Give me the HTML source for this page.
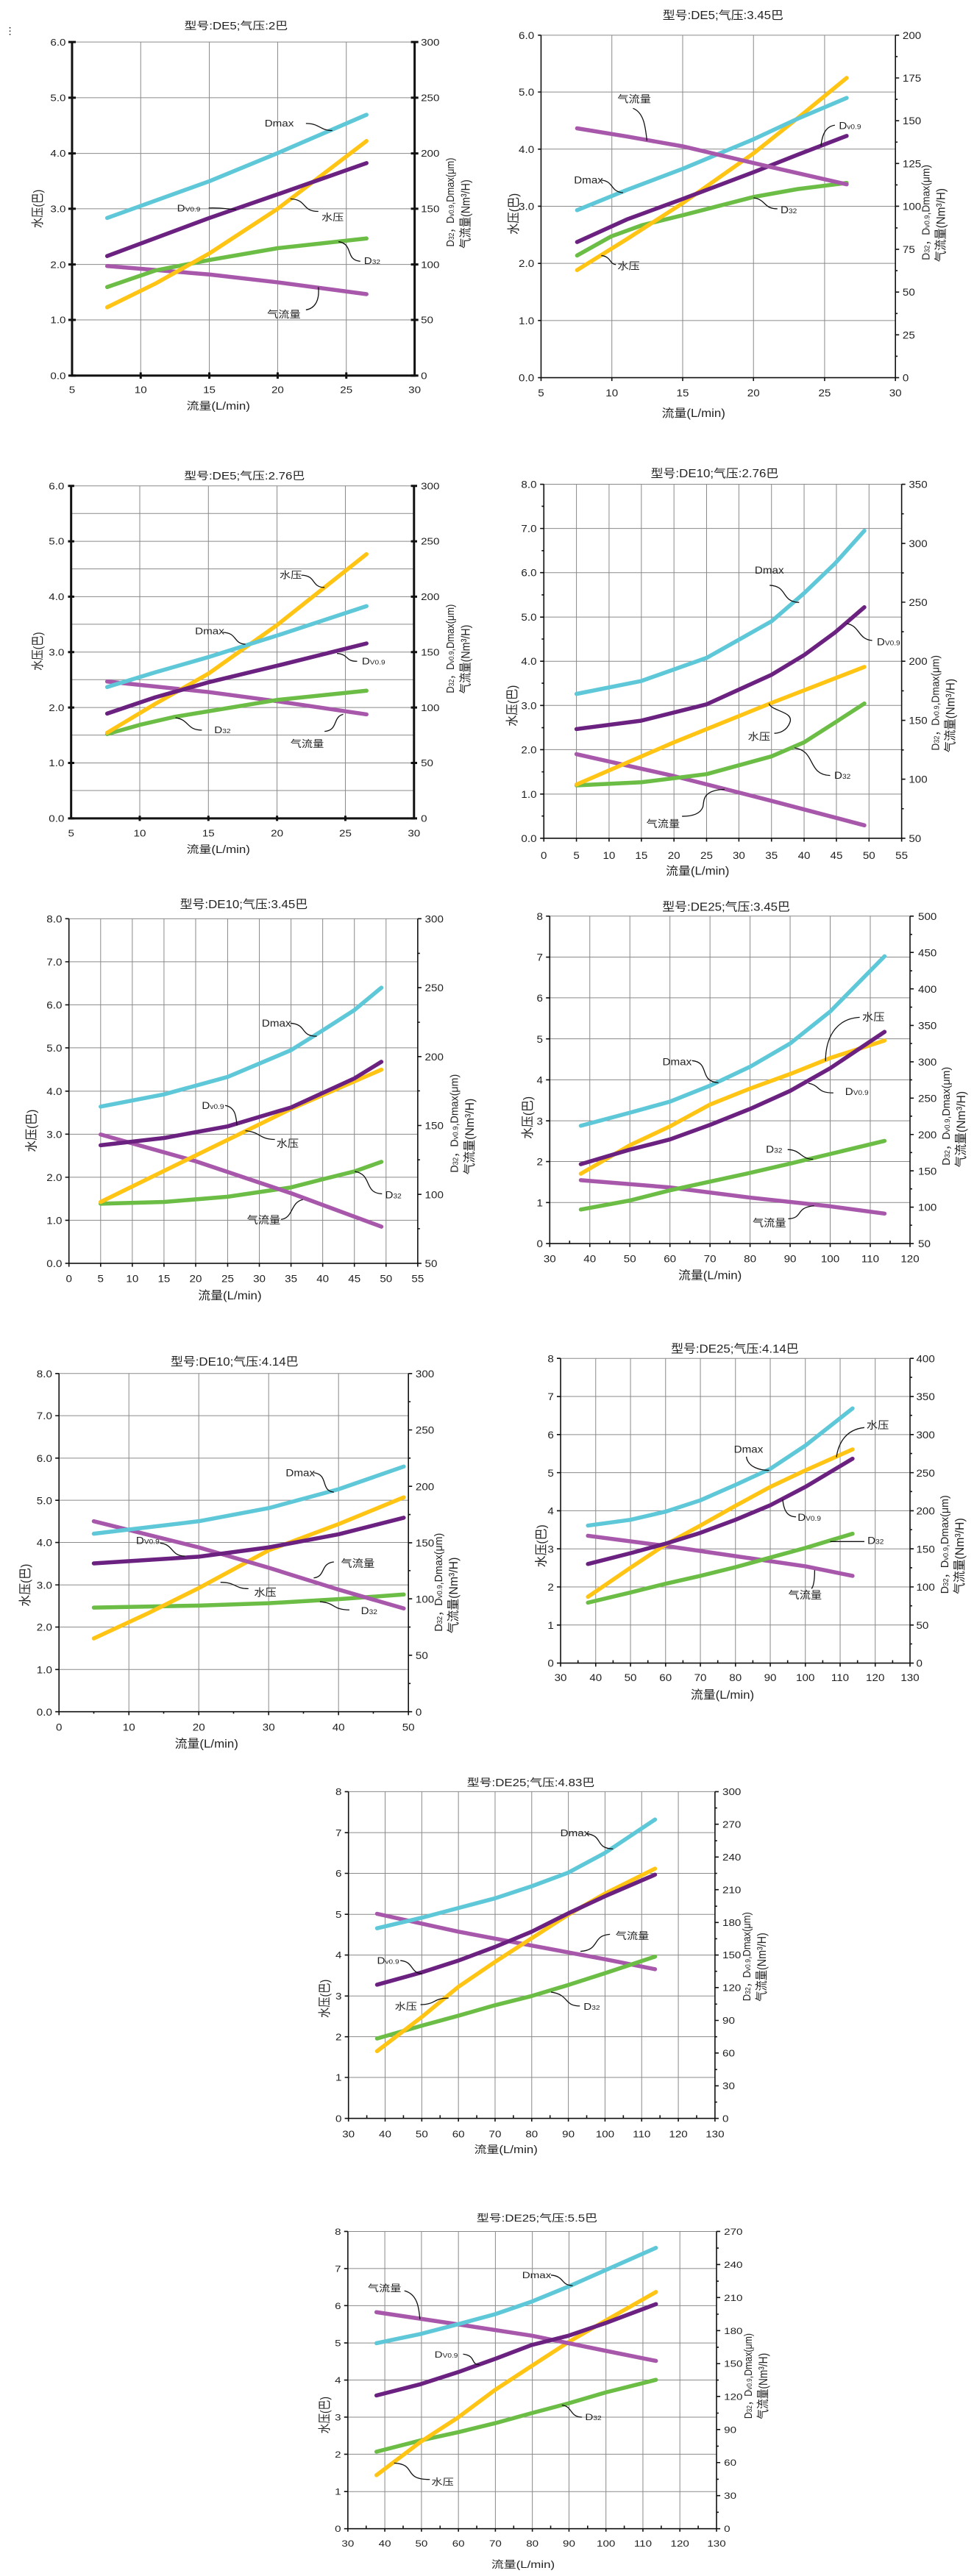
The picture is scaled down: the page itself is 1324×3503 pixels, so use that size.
<!DOCTYPE html>
<html><head><meta charset="utf-8">
<style>
html,body{margin:0;padding:0;background:#fff}
svg *{vector-effect:non-scaling-stroke}
.gr{stroke:#8a8a8a;stroke-width:1;fill:none}
.ax{stroke:#111;stroke-width:1.6;fill:none}
.ax3{stroke:#111;stroke-width:3;fill:none}
.c{fill:none;stroke-width:5.5;stroke-linecap:round;stroke-linejoin:round}
.ld{fill:none;stroke:#111;stroke-width:1.3}
text{font-family:"Liberation Sans","Noto Sans CJK SC",sans-serif;fill:#222}
.tk{font-size:36px}
.tl{font-size:40px}
.an{font-size:36px}
.sb{font-size:24px}
.cy{stroke:#5ec8d8}.ye{stroke:#ffc414}.pu{stroke:#6b2180}.lp{stroke:#a858ab}.gn{stroke:#6cbd45}
.e{text-anchor:end}.m{text-anchor:middle}
</style></head>
<body>
<svg width="1324" height="3498" viewBox="0 0 1324 3498" xmlns="http://www.w3.org/2000/svg">
<rect width="1324" height="3498" fill="#fff"/>

<!-- Chart 1 -->
<svg x="0" y="0" width="662" height="560" viewBox="0 0 1568 1568" preserveAspectRatio="none" overflow="visible">
<text x="14" y="130" class="tk" fill="#555">⋮</text>
<path class="gr" d="M453 160V1430M674 160V1430M894 160V1430M1115 160V1430M232 1218H1335M232 1007H1335M232 795H1335M232 584H1335M232 372H1335M232 160H1335"/>
<path class="ax3" d="M232 160V1430H1335V160"/>
<path class="ax3" d="M220 1430H244M220 1218H244M220 1007H244M220 795H244M220 584H244M220 372H244M220 160H244M1323 1430H1347M1323 1218H1347M1323 1007H1347M1323 795H1347M1323 584H1347M1323 372H1347M1323 160H1347M453 1418V1442M674 1418V1442M894 1418V1442M1115 1418V1442"/>
<g class="tk e"><text x="212" y="1443">0.0</text><text x="212" y="1231">1.0</text><text x="212" y="1020">2.0</text><text x="212" y="808">3.0</text><text x="212" y="597">4.0</text><text x="212" y="385">5.0</text><text x="212" y="173">6.0</text></g>
<g class="tk"><text x="1355" y="1443">0</text><text x="1355" y="1231">50</text><text x="1355" y="1020">100</text><text x="1355" y="808">150</text><text x="1355" y="597">200</text><text x="1355" y="385">250</text><text x="1355" y="173">300</text></g>
<g class="tk m"><text x="232" y="1497">5</text><text x="453" y="1497">10</text><text x="674" y="1497">15</text><text x="894" y="1497">20</text><text x="1115" y="1497">25</text><text x="1335" y="1497">30</text></g>
<text x="760" y="112" class="tl m">型号:DE5;气压:2巴</text>
<text x="703" y="1560" class="tl m">流量(L/min)</text>
<text class="tl m" transform="translate(135 795) rotate(-90)">水压(巴)</text>
<text class="tk m" transform="translate(1462 770) rotate(-90)">D<tspan class="sb">32</tspan>，D<tspan class="sb">v0.9</tspan>,Dmax(μm)</text>
<text class="tl m" transform="translate(1512 815) rotate(-90)">气流量(Nm³/H)</text>
<path class="c lp" d="M345 1013L674 1045L894 1075L1180 1120"/>
<path class="c gn" d="M345 1093L500 1030L674 990L894 945L1180 908"/>
<path class="c ye" d="M345 1170L500 1080L674 965L894 795L1180 537"/>
<path class="c pu" d="M345 975L674 830L894 740L1180 621"/>
<path class="c cy" d="M345 830L674 690L894 583L1180 437"/>
<text x="852" y="482" class="an">Dmax</text><path class="ld" d="M985 470C1030 470 1030 497 1070 497"/>
<text x="570" y="805" class="an">D<tspan class="sb">V0.9</tspan></text><path class="ld" d="M672 792C720 790 730 797 760 797"/>
<text x="1035" y="840" class="an">水压</text><path class="ld" d="M935 757C990 760 970 805 1025 805"/>
<text x="1172" y="1005" class="an">D<tspan class="sb">32</tspan></text><path class="ld" d="M1090 920C1140 930 1110 990 1160 995"/>
<text x="860" y="1210" class="an">气流量</text><path class="ld" d="M1025 1093C1030 1150 1010 1175 985 1180"/>
</svg>

<!-- Chart 2 -->
<svg x="662" y="0" width="662" height="600" viewBox="0 0 1568 1568" preserveAspectRatio="none" overflow="visible">
<path class="gr" d="M402 125V1342M630 125V1342M858 125V1342M1087 125V1342M174 1139H1315M174 936H1315M174 733H1315M174 530H1315M174 327H1315M174 125H1315"/>
<path class="ax" d="M174 125V1342H1315V125"/>
<path class="ax" d="M164 1342H174M164 1139H174M164 936H174M164 733H174M164 530H174M164 327H174M164 125H174M1315 1342H1327M1315 1190H1327M1315 1038H1327M1315 886H1327M1315 733H1327M1315 581H1327M1315 429H1327M1315 277H1327M1315 125H1327M1315 1266H1322M1315 1114H1322M1315 962H1322M1315 810H1322M1315 657H1322M1315 505H1322M1315 353H1322M1315 201H1322M174 1342V1354M402 1342V1354M630 1342V1354M858 1342V1354M1087 1342V1354M1315 1342V1354"/>
<g class="tk e"><text x="152" y="1355">0.0</text><text x="152" y="1152">1.0</text><text x="152" y="949">2.0</text><text x="152" y="746">3.0</text><text x="152" y="543">4.0</text><text x="152" y="340">5.0</text><text x="152" y="138">6.0</text></g>
<g class="tk"><text x="1338" y="1355">0</text><text x="1338" y="1203">25</text><text x="1338" y="1051">50</text><text x="1338" y="899">75</text><text x="1338" y="746">100</text><text x="1338" y="594">125</text><text x="1338" y="442">150</text><text x="1338" y="290">175</text><text x="1338" y="138">200</text></g>
<g class="tk m"><text x="174" y="1408">5</text><text x="402" y="1408">10</text><text x="630" y="1408">15</text><text x="858" y="1408">20</text><text x="1087" y="1408">25</text><text x="1315" y="1408">30</text></g>
<text x="760" y="68" class="tl m">型号:DE5;气压:3.45巴</text>
<text x="665" y="1482" class="tl m">流量(L/min)</text>
<text class="tl m" transform="translate(100 760) rotate(-90)">水压(巴)</text>
<text class="tk m" transform="translate(1425 755) rotate(-90)">D<tspan class="sb">32</tspan>，D<tspan class="sb">v0.9</tspan>,Dmax(μm)</text>
<text class="tl m" transform="translate(1475 800) rotate(-90)">气流量(Nm³/H)</text>
<path class="c gn" d="M290 908L400 840L500 800L630 765L858 700L1000 672L1158 650"/>
<path class="c ye" d="M290 960L450 850L630 722L858 545L1000 420L1158 277"/>
<path class="c pu" d="M290 860L450 780L630 707L858 612L1000 550L1158 483"/>
<path class="c cy" d="M290 747L450 675L630 600L858 495L1000 422L1158 348"/>
<path class="c lp" d="M290 456L450 485L630 520L900 590L1158 655"/>
<text x="420" y="365" class="an">气流量</text><path class="ld" d="M470 385C505 400 510 450 515 500"/>
<text x="280" y="652" class="an">Dmax</text><path class="ld" d="M368 640C410 645 395 680 438 685"/>
<text x="1133" y="458" class="an">D<tspan class="sb">v0.9</tspan></text><path class="ld" d="M1120 445C1085 450 1078 490 1075 520"/>
<text x="945" y="758" class="an">D<tspan class="sb">32</tspan></text><path class="ld" d="M858 703C900 710 890 742 935 742"/>
<text x="420" y="958" class="an">水压</text><path class="ld" d="M368 908C400 912 395 940 415 940"/>
</svg>

<!-- Chart 3 -->
<svg x="0" y="600" width="662" height="560" viewBox="0 0 1568 1568" preserveAspectRatio="none" overflow="visible">
<path class="gr" d="M450 170V1436M671 170V1436M892 170V1436M1112 170V1436M229 1225H1333M229 1014H1333M229 803H1333M229 592H1333M229 381H1333M229 170H1333M229 1330H1333M229 1119H1333M229 908H1333M229 697H1333M229 486H1333M229 275H1333"/>
<path class="ax3" d="M229 170V1436H1333V170"/>
<path class="ax3" d="M219 1436H239M219 1225H239M219 1014H239M219 803H239M219 592H239M219 381H239M219 170H239M1323 1436H1343M1323 1225H1343M1323 1014H1343M1323 803H1343M1323 592H1343M1323 381H1343M1323 170H1343M450 1426V1446M671 1426V1446M892 1426V1446M1112 1426V1446"/>
<g class="tk e"><text x="207" y="1449">0.0</text><text x="207" y="1238">1.0</text><text x="207" y="1027">2.0</text><text x="207" y="816">3.0</text><text x="207" y="605">4.0</text><text x="207" y="394">5.0</text><text x="207" y="183">6.0</text></g>
<g class="tk"><text x="1355" y="1449">0</text><text x="1355" y="1238">50</text><text x="1355" y="1027">100</text><text x="1355" y="816">150</text><text x="1355" y="605">200</text><text x="1355" y="394">250</text><text x="1355" y="183">300</text></g>
<g class="tk m"><text x="229" y="1505">5</text><text x="450" y="1505">10</text><text x="671" y="1505">15</text><text x="892" y="1505">20</text><text x="1112" y="1505">25</text><text x="1333" y="1505">30</text></g>
<text x="787" y="145" class="tl m">型号:DE5;气压:2.76巴</text>
<text x="703" y="1568" class="tl m">流量(L/min)</text>
<text class="tl m" transform="translate(135 800) rotate(-90)">水压(巴)</text>
<text class="tk m" transform="translate(1462 790) rotate(-90)">D<tspan class="sb">32</tspan>，D<tspan class="sb">v0.9</tspan>,Dmax(μm)</text>
<text class="tl m" transform="translate(1512 830) rotate(-90)">气流量(Nm³/H)</text>
<path class="c lp" d="M345 915L671 955L892 990L1180 1040"/>
<path class="c gn" d="M345 1115L450 1080L560 1050L892 985L1180 950"/>
<path class="c ye" d="M345 1110L500 1000L671 885L892 700L1180 430"/>
<path class="c pu" d="M345 1037L500 975L671 918L892 855L1180 770"/>
<path class="c cy" d="M345 936L500 880L671 822L892 740L1180 628"/>
<text x="900" y="522" class="an">水压</text><path class="ld" d="M970 510C1020 512 1000 555 1045 557"/>
<text x="628" y="735" class="an">Dmax</text><path class="ld" d="M718 728C765 730 750 770 790 773"/>
<text x="1165" y="850" class="an">D<tspan class="sb">V0.9</tspan></text><path class="ld" d="M1085 808C1125 812 1110 838 1150 838"/>
<text x="690" y="1112" class="an">D<tspan class="sb">32</tspan></text><path class="ld" d="M565 1053C610 1060 600 1100 650 1100"/>
<text x="935" y="1165" class="an">气流量</text><path class="ld" d="M1105 1040C1070 1050 1090 1100 1045 1105"/>
</svg>

<!-- Chart 4 -->
<svg x="662" y="600" width="662" height="600" viewBox="0 0 1568 1568" preserveAspectRatio="none" overflow="visible">
<path class="gr" d="M288 153V1411M393 153V1411M497 153V1411M602 153V1411M707 153V1411M811 153V1411M916 153V1411M1021 153V1411M1125 153V1411M1230 153V1411M183 1254H1335M183 1096H1335M183 939H1335M183 782H1335M183 625H1335M183 467H1335M183 310H1335M183 153H1335"/>
<path class="ax" d="M183 153V1411H1335V153"/>
<path class="ax" d="M171 1411H183M171 1254H183M171 1096H183M171 939H183M171 782H183M171 625H183M171 467H183M171 310H183M171 153H183M176 1332H183M176 1175H183M176 1018H183M176 860H183M176 703H183M176 546H183M176 389H183M176 231H183M1335 1411H1347M1335 1201H1347M1335 992H1347M1335 782H1347M1335 572H1347M1335 363H1347M1335 153H1347M1335 1306H1342M1335 1097H1342M1335 887H1342M1335 677H1342M1335 468H1342M1335 258H1342M183 1411V1423M288 1411V1423M393 1411V1423M497 1411V1423M602 1411V1423M707 1411V1423M811 1411V1423M916 1411V1423M1021 1411V1423M1125 1411V1423M1230 1411V1423M1335 1411V1423"/>
<g class="tk e"><text x="160" y="1424">0.0</text><text x="160" y="1267">1.0</text><text x="160" y="1109">2.0</text><text x="160" y="952">3.0</text><text x="160" y="795">4.0</text><text x="160" y="638">5.0</text><text x="160" y="480">6.0</text><text x="160" y="323">7.0</text><text x="160" y="166">8.0</text></g>
<g class="tk"><text x="1358" y="1424">50</text><text x="1358" y="1214">100</text><text x="1358" y="1005">150</text><text x="1358" y="795">200</text><text x="1358" y="585">250</text><text x="1358" y="376">300</text><text x="1358" y="166">350</text></g>
<g class="tk m"><text x="183" y="1485">0</text><text x="288" y="1485">5</text><text x="393" y="1485">10</text><text x="497" y="1485">15</text><text x="602" y="1485">20</text><text x="707" y="1485">25</text><text x="811" y="1485">30</text><text x="916" y="1485">35</text><text x="1021" y="1485">40</text><text x="1125" y="1485">45</text><text x="1230" y="1485">50</text><text x="1335" y="1485">55</text></g>
<text x="733" y="128" class="tl m">型号:DE10;气压:2.76巴</text>
<text x="678" y="1540" class="tl m">流量(L/min)</text>
<text class="tl m" transform="translate(95 940) rotate(-90)">水压(巴)</text>
<text class="tk m" transform="translate(1455 930) rotate(-90)">D<tspan class="sb">32</tspan>，D<tspan class="sb">v0.9</tspan>,Dmax(μm)</text>
<text class="tl m" transform="translate(1505 975) rotate(-90)">气流量(Nm³/H)</text>
<path class="c lp" d="M288 1112L602 1190L916 1278L1215 1365"/>
<path class="c gn" d="M288 1223L497 1212L707 1183L916 1120L1021 1070L1120 1000L1215 932"/>
<path class="c ye" d="M288 1220L602 1070L916 930L1215 802"/>
<path class="c pu" d="M288 1023L497 993L707 935L916 830L1021 760L1120 680L1215 590"/>
<path class="c cy" d="M288 898L497 852L707 770L916 640L1021 540L1120 435L1215 318"/>
<text x="862" y="470" class="an">Dmax</text><path class="ld" d="M910 512C970 515 945 570 1005 573"/>
<text x="1255" y="725" class="an">D<tspan class="sb">V0.9</tspan></text><path class="ld" d="M1158 648C1200 655 1195 705 1240 708"/>
<text x="840" y="1062" class="an">水压</text><path class="ld" d="M908 932C915 960 990 960 975 1000C965 1030 940 1038 925 1038"/>
<text x="1118" y="1200" class="an">D<tspan class="sb">32</tspan></text><path class="ld" d="M990 1090C1060 1100 1030 1185 1105 1188"/>
<text x="513" y="1372" class="an">气流量</text><path class="ld" d="M765 1237C690 1240 700 1280 695 1300C685 1330 650 1333 628 1333"/>
</svg>

<!-- Chart 5 -->
<svg x="0" y="1160" width="662" height="620" viewBox="0 0 1568 1568" preserveAspectRatio="none" overflow="visible">
<path class="gr" d="M324 226V1411M426 226V1411M528 226V1411M630 226V1411M733 226V1411M835 226V1411M937 226V1411M1039 226V1411M1141 226V1411M1243 226V1411M222 1263H1345M222 1115H1345M222 967H1345M222 819H1345M222 670H1345M222 522H1345M222 374H1345M222 226H1345"/>
<path class="ax" d="M222 226V1411H1345V226"/>
<path class="ax" d="M210 1411H222M210 1263H222M210 1115H222M210 967H222M210 819H222M210 670H222M210 522H222M210 374H222M210 226H222M1345 1411H1357M1345 1174H1357M1345 937H1357M1345 700H1357M1345 463H1357M1345 226H1357M1345 1292H1352M1345 1055H1352M1345 818H1352M1345 582H1352M1345 345H1352M222 1411V1423M324 1411V1423M426 1411V1423M528 1411V1423M630 1411V1423M733 1411V1423M835 1411V1423M937 1411V1423M1039 1411V1423M1141 1411V1423M1243 1411V1423M1345 1411V1423"/>
<g class="tk e"><text x="200" y="1424">0.0</text><text x="200" y="1276">1.0</text><text x="200" y="1128">2.0</text><text x="200" y="980">3.0</text><text x="200" y="832">4.0</text><text x="200" y="683">5.0</text><text x="200" y="535">6.0</text><text x="200" y="387">7.0</text><text x="200" y="239">8.0</text></g>
<g class="tk"><text x="1368" y="1424">50</text><text x="1368" y="1187">100</text><text x="1368" y="950">150</text><text x="1368" y="713">200</text><text x="1368" y="476">250</text><text x="1368" y="239">300</text></g>
<g class="tk m"><text x="222" y="1476">0</text><text x="324" y="1476">5</text><text x="426" y="1476">10</text><text x="528" y="1476">15</text><text x="630" y="1476">20</text><text x="733" y="1476">25</text><text x="835" y="1476">30</text><text x="937" y="1476">35</text><text x="1039" y="1476">40</text><text x="1141" y="1476">45</text><text x="1243" y="1476">50</text><text x="1345" y="1476">55</text></g>
<text x="785" y="190" class="tl m">型号:DE10;气压:3.45巴</text>
<text x="740" y="1535" class="tl m">流量(L/min)</text>
<text class="tl m" transform="translate(115 955) rotate(-90)">水压(巴)</text>
<text class="tk m" transform="translate(1475 930) rotate(-90)">D<tspan class="sb">32</tspan>，D<tspan class="sb">v0.9</tspan>,Dmax(μm)</text>
<text class="tl m" transform="translate(1525 975) rotate(-90)">气流量(Nm³/H)</text>
<path class="c gn" d="M324 1206L528 1200L733 1182L937 1150L1039 1122L1141 1095L1228 1062"/>
<path class="c lp" d="M324 968L630 1060L937 1170L1228 1285"/>
<path class="c ye" d="M324 1200L630 1040L937 880L1228 745"/>
<path class="c pu" d="M324 1005L528 980L733 940L937 875L1039 825L1141 775L1228 718"/>
<path class="c cy" d="M324 872L528 830L733 770L937 678L1039 610L1141 540L1228 463"/>
<text x="843" y="597" class="an">Dmax</text><path class="ld" d="M935 585C990 590 965 630 1020 630"/>
<text x="650" y="880" class="an">D<tspan class="sb">v0.9</tspan></text><path class="ld" d="M725 868C760 875 760 910 763 937"/>
<text x="890" y="1012" class="an">水压</text><path class="ld" d="M790 955C840 960 835 985 885 985"/>
<text x="1240" y="1188" class="an">D<tspan class="sb">32</tspan></text><path class="ld" d="M1142 1095C1200 1105 1170 1170 1230 1172"/>
<text x="795" y="1275" class="an">气流量</text><path class="ld" d="M975 1192C935 1200 945 1255 905 1260"/>
</svg>

<!-- Chart 6 -->
<svg x="662" y="1160" width="662" height="620" viewBox="0 0 1568 1568" preserveAspectRatio="none" overflow="visible">
<path class="gr" d="M331 217V1343M460 217V1343M589 217V1343M718 217V1343M847 217V1343M976 217V1343M1105 217V1343M1234 217V1343M202 1202H1362M202 1061H1362M202 921H1362M202 780H1362M202 639H1362M202 498H1362M202 358H1362M202 217H1362"/>
<path class="ax" d="M202 217V1343H1362V217"/>
<path class="ax" d="M190 1343H202M190 1202H202M190 1061H202M190 921H202M190 780H202M190 639H202M190 498H202M190 358H202M190 217H202M1362 1343H1374M1362 1218H1374M1362 1093H1374M1362 968H1374M1362 843H1374M1362 718H1374M1362 593H1374M1362 467H1374M1362 342H1374M1362 217H1374M1362 1280H1369M1362 1155H1369M1362 1030H1369M1362 905H1369M1362 780H1369M1362 655H1369M1362 530H1369M1362 405H1369M1362 280H1369M202 1343V1355M331 1343V1355M460 1343V1355M589 1343V1355M718 1343V1355M847 1343V1355M976 1343V1355M1105 1343V1355M1234 1343V1355M1362 1343V1355M266 1343V1333M395 1343V1333M524 1343V1333M653 1343V1333M782 1343V1333M911 1343V1333M1040 1343V1333M1169 1343V1333M1298 1343V1333"/>
<g class="tk e"><text x="180" y="1356">0</text><text x="180" y="1215">1</text><text x="180" y="1074">2</text><text x="180" y="934">3</text><text x="180" y="793">4</text><text x="180" y="652">5</text><text x="180" y="511">6</text><text x="180" y="371">7</text><text x="180" y="230">8</text></g>
<g class="tk"><text x="1388" y="1356">50</text><text x="1388" y="1231">100</text><text x="1388" y="1106">150</text><text x="1388" y="981">200</text><text x="1388" y="856">250</text><text x="1388" y="731">300</text><text x="1388" y="606">350</text><text x="1388" y="480">400</text><text x="1388" y="355">450</text><text x="1388" y="230">500</text></g>
<g class="tk m"><text x="202" y="1408">30</text><text x="331" y="1408">40</text><text x="460" y="1408">50</text><text x="589" y="1408">60</text><text x="718" y="1408">70</text><text x="847" y="1408">80</text><text x="976" y="1408">90</text><text x="1105" y="1408">100</text><text x="1234" y="1408">110</text><text x="1362" y="1408">120</text></g>
<text x="770" y="198" class="tl m">型号:DE25;气压:3.45巴</text>
<text x="718" y="1465" class="tl m">流量(L/min)</text>
<text class="tl m" transform="translate(145 910) rotate(-90)">水压(巴)</text>
<text class="tk m" transform="translate(1490 905) rotate(-90)">D<tspan class="sb">32</tspan>，D<tspan class="sb">v0.9</tspan>,Dmax(μm)</text>
<text class="tl m" transform="translate(1540 950) rotate(-90)">气流量(Nm³/H)</text>
<path class="c lp" d="M302 1125L589 1150L847 1185L1105 1215L1280 1240"/>
<path class="c gn" d="M302 1226L460 1195L589 1160L718 1130L847 1100L976 1068L1105 1035L1280 990"/>
<path class="c ye" d="M302 1103L460 1005L589 940L718 865L847 810L976 760L1105 705L1280 645"/>
<path class="c pu" d="M302 1070L460 1020L589 985L718 935L847 880L976 818L1105 740L1280 615"/>
<path class="c cy" d="M302 938L460 893L589 855L718 800L847 735L976 655L1105 545L1280 355"/>
<text x="1208" y="577" class="an">水压</text><path class="ld" d="M1200 565C1120 570 1090 640 1090 715"/>
<text x="565" y="730" class="an">Dmax</text><path class="ld" d="M660 714C720 720 680 785 745 790"/>
<text x="1153" y="832" class="an">D<tspan class="sb">V0.9</tspan></text><path class="ld" d="M1035 792C1075 800 1060 825 1115 825"/>
<text x="898" y="1030" class="an">D<tspan class="sb">32</tspan></text><path class="ld" d="M968 1020C1010 1020 1010 1053 1050 1053"/>
<text x="855" y="1285" class="an">气流量</text><path class="ld" d="M1053 1213C990 1220 1020 1255 970 1258"/>
</svg>

<!-- Chart 7 -->
<svg x="0" y="1780" width="662" height="620" viewBox="0 0 1568 1568" preserveAspectRatio="none" overflow="visible">
<path class="gr" d="M415 222V1385M640 222V1385M865 222V1385M1090 222V1385M190 1240H1315M190 1094H1315M190 949H1315M190 803H1315M190 658H1315M190 513H1315M190 367H1315M190 222H1315"/>
<path class="ax" d="M190 222V1385H1315V222"/>
<path class="ax" d="M178 1385H190M178 1240H190M178 1094H190M178 949H190M178 803H190M178 658H190M178 513H190M178 367H190M178 222H190M1315 1385H1327M1315 1191H1327M1315 997H1327M1315 804H1327M1315 610H1327M1315 416H1327M1315 222H1327M1315 1288H1322M1315 1094H1322M1315 900H1322M1315 707H1322M1315 513H1322M1315 319H1322M190 1385V1397M415 1385V1397M640 1385V1397M865 1385V1397M1090 1385V1397M1315 1385V1397M302 1385V1392M527 1385V1392M752 1385V1392M977 1385V1392M1202 1385V1392"/>
<g class="tk e"><text x="168" y="1398">0.0</text><text x="168" y="1253">1.0</text><text x="168" y="1107">2.0</text><text x="168" y="962">3.0</text><text x="168" y="816">4.0</text><text x="168" y="671">5.0</text><text x="168" y="526">6.0</text><text x="168" y="380">7.0</text><text x="168" y="235">8.0</text></g>
<g class="tk"><text x="1338" y="1398">0</text><text x="1338" y="1204">50</text><text x="1338" y="1010">100</text><text x="1338" y="817">150</text><text x="1338" y="623">200</text><text x="1338" y="429">250</text><text x="1338" y="235">300</text></g>
<g class="tk m"><text x="190" y="1450">0</text><text x="415" y="1450">10</text><text x="640" y="1450">20</text><text x="865" y="1450">30</text><text x="1090" y="1450">40</text><text x="1315" y="1450">50</text></g>
<text x="755" y="195" class="tl m">型号:DE10;气压:4.14巴</text>
<text x="665" y="1508" class="tl m">流量(L/min)</text>
<text class="tl m" transform="translate(95 950) rotate(-90)">水压(巴)</text>
<text class="tk m" transform="translate(1423 940) rotate(-90)">D<tspan class="sb">32</tspan>，D<tspan class="sb">v0.9</tspan>,Dmax(μm)</text>
<text class="tl m" transform="translate(1473 985) rotate(-90)">气流量(Nm³/H)</text>
<path class="c gn" d="M302 1027L640 1020L865 1012L1090 998L1300 982"/>
<path class="c ye" d="M302 1133L470 1050L640 960L865 830L1090 740L1300 648"/>
<path class="c lp" d="M302 730L640 820L865 890L1090 965L1300 1030"/>
<path class="c pu" d="M302 875L640 852L865 820L1090 775L1300 718"/>
<path class="c cy" d="M302 773L640 730L865 685L1090 620L1300 542"/>
<text x="920" y="575" class="an">Dmax</text><path class="ld" d="M1010 563C1060 570 1030 625 1075 630"/>
<text x="438" y="808" class="an">D<tspan class="sb">V0.9</tspan></text><path class="ld" d="M515 805C560 810 550 850 595 850"/>
<text x="1098" y="888" class="an">气流量</text><path class="ld" d="M1075 870C1030 875 1050 920 1010 925"/>
<text x="818" y="988" class="an">水压</text><path class="ld" d="M710 940C760 940 755 962 800 962"/>
<text x="1162" y="1050" class="an">D<tspan class="sb">32</tspan></text><path class="ld" d="M1030 1007C1080 1010 1070 1035 1125 1035"/>
</svg>

<!-- Chart 8 -->
<svg x="662" y="1780" width="662" height="620" viewBox="0 0 1568 1568" preserveAspectRatio="none" overflow="visible">
<path class="gr" d="M350 170V1218M462 170V1218M575 170V1218M687 170V1218M800 170V1218M912 170V1218M1025 170V1218M1137 170V1218M1250 170V1218M237 1087H1362M237 956H1362M237 825H1362M237 694H1362M237 563H1362M237 432H1362M237 301H1362M237 170H1362"/>
<path class="ax" d="M237 170V1218H1362V170"/>
<path class="ax" d="M225 1218H237M225 1087H237M225 956H237M225 825H237M225 694H237M225 563H237M225 432H237M225 301H237M225 170H237M1362 1218H1374M1362 1087H1374M1362 956H1374M1362 825H1374M1362 694H1374M1362 563H1374M1362 432H1374M1362 301H1374M1362 170H1374M1362 1152H1369M1362 1021H1369M1362 890H1369M1362 759H1369M1362 628H1369M1362 497H1369M1362 366H1369M1362 235H1369M237 1218V1230M350 1218V1230M462 1218V1230M575 1218V1230M687 1218V1230M800 1218V1230M912 1218V1230M1025 1218V1230M1137 1218V1230M1250 1218V1230M1362 1218V1230M293 1218V1208M406 1218V1208M518 1218V1208M631 1218V1208M743 1218V1208M856 1218V1208M968 1218V1208M1081 1218V1208M1193 1218V1208M1306 1218V1208"/>
<g class="tk e"><text x="215" y="1231">0</text><text x="215" y="1100">1</text><text x="215" y="969">2</text><text x="215" y="838">3</text><text x="215" y="707">4</text><text x="215" y="576">5</text><text x="215" y="445">6</text><text x="215" y="314">7</text><text x="215" y="183">8</text></g>
<g class="tk"><text x="1382" y="1231">0</text><text x="1382" y="1100">50</text><text x="1382" y="969">100</text><text x="1382" y="838">150</text><text x="1382" y="707">200</text><text x="1382" y="576">250</text><text x="1382" y="445">300</text><text x="1382" y="314">350</text><text x="1382" y="183">400</text></g>
<g class="tk m"><text x="237" y="1280">30</text><text x="350" y="1280">40</text><text x="462" y="1280">50</text><text x="575" y="1280">60</text><text x="687" y="1280">70</text><text x="800" y="1280">80</text><text x="912" y="1280">90</text><text x="1025" y="1280">100</text><text x="1137" y="1280">110</text><text x="1250" y="1280">120</text><text x="1362" y="1280">130</text></g>
<text x="798" y="151" class="tl m">型号:DE25;气压:4.14巴</text>
<text x="758" y="1341" class="tl m">流量(L/min)</text>
<text class="tl m" transform="translate(188 815) rotate(-90)">水压(巴)</text>
<text class="tk m" transform="translate(1485 810) rotate(-90)">D<tspan class="sb">32</tspan>，D<tspan class="sb">v0.9</tspan>,Dmax(μm)</text>
<text class="tl m" transform="translate(1535 850) rotate(-90)">气流量(Nm³/H)</text>
<path class="c lp" d="M325 780L575 815L800 850L1025 885L1177 918"/>
<path class="c gn" d="M325 1010L462 975L575 945L687 918L800 888L912 855L1025 822L1177 773"/>
<path class="c ye" d="M325 990L462 890L575 810L687 745L800 677L912 612L1025 555L1177 483"/>
<path class="c pu" d="M325 877L462 840L575 807L687 770L800 725L912 675L1025 612L1177 515"/>
<path class="c cy" d="M325 745L462 725L575 697L687 658L800 605L912 550L1025 470L1177 342"/>
<text x="1222" y="412" class="an">水压</text><path class="ld" d="M1215 408C1150 415 1130 470 1125 510"/>
<text x="795" y="495" class="an">Dmax</text><path class="ld" d="M835 508C840 545 880 555 908 555"/>
<text x="1000" y="728" class="an">D<tspan class="sb">V0.9</tspan></text><path class="ld" d="M952 655C955 690 965 715 995 715"/>
<text x="1225" y="808" class="an">D<tspan class="sb">32</tspan></text><path class="ld" d="M1105 800H1215"/>
<text x="970" y="997" class="an">气流量</text><path class="ld" d="M1055 898C1055 940 1050 955 1045 962"/>
</svg>

<!-- Chart 9 -->
<svg x="331" y="2400" width="662" height="560" viewBox="0 0 1568 1568" preserveAspectRatio="none" overflow="visible">
<path class="gr" d="M456 102V1346M574 102V1346M692 102V1346M810 102V1346M928 102V1346M1046 102V1346M1164 102V1346M1282 102V1346M1400 102V1346M338 1190H1518M338 1035H1518M338 880H1518M338 724H1518M338 569H1518M338 413H1518M338 258H1518M338 102H1518"/>
<path class="ax" d="M338 102V1346H1518V102"/>
<path class="ax" d="M326 1346H338M326 1190H338M326 1035H338M326 880H338M326 724H338M326 569H338M326 413H338M326 258H338M326 102H338M1518 1346H1530M1518 1222H1530M1518 1097H1530M1518 973H1530M1518 848H1530M1518 724H1530M1518 600H1530M1518 475H1530M1518 351H1530M1518 226H1530M1518 102H1530M1518 1284H1525M1518 1160H1525M1518 1035H1525M1518 911H1525M1518 786H1525M1518 662H1525M1518 538H1525M1518 413H1525M1518 289H1525M1518 164H1525M338 1346V1358M456 1346V1358M574 1346V1358M692 1346V1358M810 1346V1358M928 1346V1358M1046 1346V1358M1164 1346V1358M1282 1346V1358M1400 1346V1358M1518 1346V1358M397 1346V1334M515 1346V1334M633 1346V1334M751 1346V1334M869 1346V1334M987 1346V1334M1105 1346V1334M1223 1346V1334M1341 1346V1334M1459 1346V1334"/>
<g class="tk e"><text x="316" y="1359">0</text><text x="316" y="1203">1</text><text x="316" y="1048">2</text><text x="316" y="893">3</text><text x="316" y="737">4</text><text x="316" y="582">5</text><text x="316" y="426">6</text><text x="316" y="271">7</text><text x="316" y="115">8</text></g>
<g class="tk"><text x="1542" y="1359">0</text><text x="1542" y="1235">30</text><text x="1542" y="1110">60</text><text x="1542" y="986">90</text><text x="1542" y="861">120</text><text x="1542" y="737">150</text><text x="1542" y="613">180</text><text x="1542" y="488">210</text><text x="1542" y="364">240</text><text x="1542" y="239">270</text><text x="1542" y="115">300</text></g>
<g class="tk m"><text x="338" y="1418">30</text><text x="456" y="1418">40</text><text x="574" y="1418">50</text><text x="692" y="1418">60</text><text x="810" y="1418">70</text><text x="928" y="1418">80</text><text x="1046" y="1418">90</text><text x="1164" y="1418">100</text><text x="1282" y="1418">110</text><text x="1400" y="1418">120</text><text x="1518" y="1418">130</text></g>
<text x="925" y="81" class="tl m">型号:DE25;气压:4.83巴</text>
<text x="845" y="1478" class="tl m">流量(L/min)</text>
<text class="tl m" transform="translate(275 890) rotate(-90)">水压(巴)</text>
<text class="tk m" transform="translate(1632 730) rotate(-90)">D<tspan class="sb">32</tspan>，D<tspan class="sb">v0.9</tspan>,Dmax(μm)</text>
<text class="tl m" transform="translate(1682 770) rotate(-90)">气流量(Nm³/H)</text>
<path class="c lp" d="M430 567L692 635L928 688L1164 740L1325 778"/>
<path class="c gn" d="M430 1042L574 993L692 955L810 915L928 880L1046 838L1164 793L1325 730"/>
<path class="c ye" d="M430 1090L574 960L692 845L810 750L928 660L1046 570L1164 490L1325 395"/>
<path class="c pu" d="M430 837L574 790L692 745L810 693L928 635L1046 565L1164 500L1325 418"/>
<path class="c cy" d="M430 622L574 582L692 545L810 508L928 462L1046 410L1164 335L1325 208"/>
<text x="1020" y="272" class="an">Dmax</text><path class="ld" d="M1105 262C1160 270 1130 318 1190 320"/>
<text x="1198" y="664" class="an">气流量</text><path class="ld" d="M1180 645C1120 650 1150 705 1085 710"/>
<text x="430" y="758" class="an">D<tspan class="sb">v0.9</tspan></text><path class="ld" d="M505 745C550 750 535 792 575 795"/>
<text x="487" y="932" class="an">水压</text><path class="ld" d="M570 913C620 912 610 888 660 888"/>
<text x="1095" y="932" class="an">D<tspan class="sb">32</tspan></text><path class="ld" d="M990 865C1050 875 1030 918 1083 918"/>
</svg>

<!-- Chart 10 -->
<svg x="331" y="2960" width="662" height="538" viewBox="0 0 1568 1568" preserveAspectRatio="none" overflow="visible">
<path class="gr" d="M455 217V1395M573 217V1395M692 217V1395M811 217V1395M930 217V1395M1048 217V1395M1167 217V1395M1286 217V1395M1405 217V1395M336 1248H1523M336 1100H1523M336 953H1523M336 806H1523M336 659H1523M336 511H1523M336 364H1523M336 217H1523"/>
<path class="ax" d="M336 217V1395H1523V217"/>
<path class="ax" d="M324 1395H336M324 1248H336M324 1100H336M324 953H336M324 806H336M324 659H336M324 511H336M324 364H336M324 217H336M1523 1395H1535M1523 1264H1535M1523 1133H1535M1523 1002H1535M1523 871H1535M1523 741H1535M1523 610H1535M1523 479H1535M1523 348H1535M1523 217H1535M1523 1330H1530M1523 1199H1530M1523 1068H1530M1523 937H1530M1523 806H1530M1523 676H1530M1523 545H1530M1523 414H1530M1523 283H1530M336 1395V1407M455 1395V1407M573 1395V1407M692 1395V1407M811 1395V1407M930 1395V1407M1048 1395V1407M1167 1395V1407M1286 1395V1407M1405 1395V1407M1523 1395V1407M395 1395V1383M514 1395V1383M633 1395V1383M751 1395V1383M870 1395V1383M989 1395V1383M1108 1395V1383M1226 1395V1383M1345 1395V1383M1464 1395V1383"/>
<g class="tk e"><text x="314" y="1408">0</text><text x="314" y="1261">1</text><text x="314" y="1113">2</text><text x="314" y="966">3</text><text x="314" y="819">4</text><text x="314" y="672">5</text><text x="314" y="524">6</text><text x="314" y="377">7</text><text x="314" y="230">8</text></g>
<g class="tk"><text x="1547" y="1408">0</text><text x="1547" y="1277">30</text><text x="1547" y="1146">60</text><text x="1547" y="1015">90</text><text x="1547" y="884">120</text><text x="1547" y="754">150</text><text x="1547" y="623">180</text><text x="1547" y="492">210</text><text x="1547" y="361">240</text><text x="1547" y="230">270</text></g>
<g class="tk m"><text x="336" y="1466">30</text><text x="455" y="1466">40</text><text x="573" y="1466">50</text><text x="692" y="1466">60</text><text x="811" y="1466">70</text><text x="930" y="1466">80</text><text x="1048" y="1466">90</text><text x="1167" y="1466">100</text><text x="1286" y="1466">110</text><text x="1405" y="1466">120</text><text x="1523" y="1466">130</text></g>
<text x="945" y="178" class="tl m">型号:DE25;气压:5.5巴</text>
<text x="900" y="1550" class="tl m">流量(L/min)</text>
<text class="tl m" transform="translate(275 945) rotate(-90)">水压(巴)</text>
<text class="tk m" transform="translate(1637 790) rotate(-90)">D<tspan class="sb">32</tspan>，D<tspan class="sb">v0.9</tspan>,Dmax(μm)</text>
<text class="tl m" transform="translate(1687 830) rotate(-90)">气流量(Nm³/H)</text>
<path class="c gn" d="M428 1090L571 1045L690 1013L810 977L928 937L1047 898L1166 855L1328 805"/>
<path class="c ye" d="M428 1183L571 1050L690 955L810 845L928 750L1047 655L1166 570L1328 457"/>
<path class="c lp" d="M428 537L690 585L928 630L1166 690L1328 730"/>
<path class="c pu" d="M428 867L571 822L690 775L810 722L928 667L1047 630L1166 580L1328 505"/>
<path class="c cy" d="M428 660L571 623L690 585L810 545L928 495L1047 435L1166 370L1328 282"/>
<text x="897" y="402" class="an">Dmax</text><path class="ld" d="M990 390C1035 395 1020 430 1060 432"/>
<text x="400" y="455" class="an">气流量</text><path class="ld" d="M518 452C560 465 565 520 568 565"/>
<text x="615" y="717" class="an">D<tspan class="sb">V0.9</tspan></text><path class="ld" d="M707 703C750 710 730 745 760 745"/>
<text x="1100" y="965" class="an">D<tspan class="sb">32</tspan></text><path class="ld" d="M1025 905C1060 910 1050 953 1090 953"/>
<text x="605" y="1222" class="an">水压</text><path class="ld" d="M485 1135C560 1140 510 1200 600 1200"/>
</svg>

</svg>
</body></html>
